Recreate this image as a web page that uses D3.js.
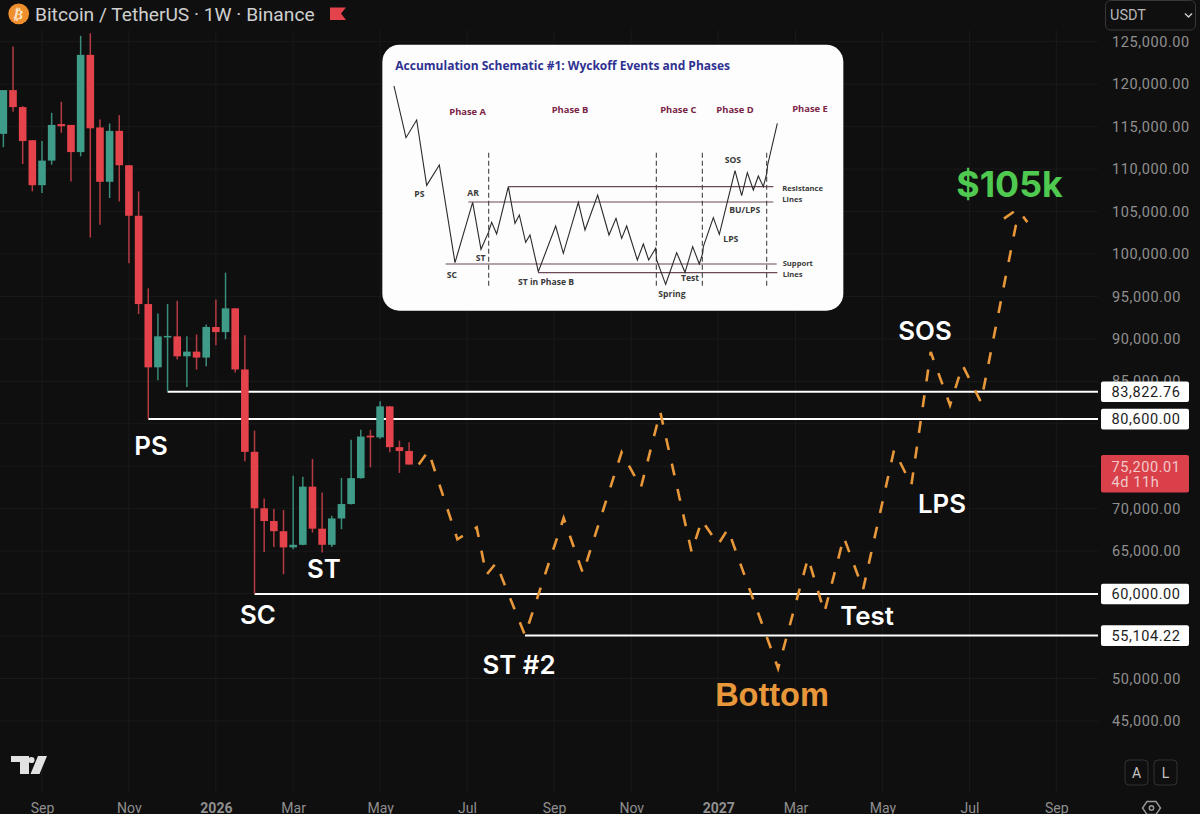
<!DOCTYPE html>
<html>
<head>
<meta charset="utf-8">
<script src="https://cdn.jsdelivr.net/npm/d3@7"></script>
<style>
html,body{margin:0;padding:0;background:#0f0f0f;overflow:hidden}
text{font-family:Inter,Roboto,sans-serif}
</style>
</head>
<body>
<div id="viz"></div>
<script>
// weekly candles, week 0 = 1 Sep 2025
var candleWeek = d3.range(-4,39);
var open  = [114150,119300,117300,113400,108100,111000,115300,115200,112000,123450,114900,108500,114500,110450,104500,94100,86650,90200,90300,87950,88500,87800,91400,90800,93600,86400,76700,70050,68550,67350,65450,65750,72600,67650,65750,68850,70550,73600,78600,78400,82050,77250,76800];
var high  = [119300,124430,117400,113400,113300,116630,117930,115200,125700,126000,115840,115370,116350,110450,107370,95950,93000,94100,94490,90320,90520,91700,94650,97800,93600,90430,79200,71210,69960,69840,73890,73770,75860,71920,69160,73620,78110,79290,79290,82670,82100,78030,77830];
var low   = [112570,116750,110600,107370,107180,110520,114270,108550,111500,101930,103430,106590,106190,98910,92920,80600,85120,83820,87560,84330,86380,86770,89250,89960,86030,75580,60000,64900,65500,62275,65230,65700,67190,64830,65500,67590,70500,73550,74870,78230,76645,74210,75200];
var close = [119300,117300,113300,108100,111000,115200,115050,112000,123450,114800,108500,114500,110450,104500,94100,86650,90300,90350,87950,88500,87800,91400,90800,93600,86400,76700,70050,68550,67350,65450,65750,72600,67650,65750,68850,70550,73600,78500,78400,82050,77250,76800,75200];

// hand drawn projection
var projWeek  = [39,40,43,45,46,47,50,54,56,60,62,64,67.25,68.3,70,71,76.2,79.3,81,83,85,88.2,90,92,94,95.3,97.2,100.8,99.5,101,102];
var projPrice = [75200,76800,66400,67800,62200,63600,55100,68900,62400,76650,72500,81400,64900,68650,65800,67600,51200,64200,57800,66650,60500,76900,72800,88450,82200,86900,82550,103300,104100,105300,103750];

var levelPrice = [83822.76,80600,60000,55104.22];
var levelStart = [13,11,22,50];

var priceTicks = d3.range(45000,125001,5000);
// the rest sit behind the price tags
var priceLabels = [45000,50000,65000,70000,85000,90000,95000,100000,105000,110000,115000,120000,125000];
var timeWeeks  = [0,9,18,26,35,44,53,61,70,78,87,96,105];
var timeNames  = ["Sep","Nov","2026","Mar","May","Jul","Sep","Nov","2027","Mar","May","Jul","Sep"];

var eventNames = ["PS","ST","SC","ST #2","Test","LPS","SOS"];
var eventX     = [151,324,258,519,867,942,925];
var eventY     = [455,578,624,674,625,513,340];

// inset schematic, in its own picture units
var schemX = [42,78,110,140,178,225,278,303,325,335,350,385,405,418,437,450,475,527,550,595,615,653,687,708,725,740,772,790,806,827,830,857,890,915,938,958,968,970,1000,1018,1065,1085,1102,1120,1135,1150,1160,1163,1192];
var schemY = [138,293,240,436,375,668,487,628,578,547,582,440,550,525,607,585,695,558,640,487,570,465,585,535,595,558,660,612,660,625,660,733,638,697,620,672,640,620,533,583,392,467,398,450,408,440,402,375,250];
var schemLevelY  = [440,486,672,698];
var schemLevelX0 = [385,265,197,475];
var schemLevelX1 = [1180,1180,1190,1192];
var schemPhaseX  = [326,829,967,1160];
var phaseNames = ["Phase A","Phase B","Phase C","Phase D","Phase E"];
var phaseX     = [263,570,895,1065,1290];
var phaseY     = [224,220,218,218,216];
var schemNames = ["PS","AR","SC","ST","ST in Phase B","SOS","BU/LPS","LPS","Spring","Test","Resistance","Lines","Support","Lines"];
var schemNameX = [103,262,200,287,414,1034,1048,1030,835,903,1207,1207,1208,1208];
var schemNameY = [470,467,713,663,736,370,520,606,770,723,453,486,678,710];

var RED="#e5434b", GREEN="#3f9c88", ORANGE="#e8983a";

var svg = d3.select("#viz").append("svg").attr("width",1200).attr("height",814)
    .style("display","block").style("background","#0f0f0f");

var x = d3.scaleLinear().domain([0,105]).range([42,1056.3]);
var y = d3.scaleLinear().domain([125000,45000]).range([41.7,721]);

// grid
svg.append("g").selectAll("line").data(priceTicks).enter().append("line")
    .attr("x1",0).attr("x2",1098).attr("y1",function(d){return y(d)}).attr("y2",function(d){return y(d)})
    .attr("stroke","#1a1a1a");
svg.append("g").selectAll("line").data(timeWeeks).enter().append("line")
    .attr("x1",function(d){return x(d)}).attr("x2",function(d){return x(d)}).attr("y1",30).attr("y2",792)
    .attr("stroke","#1a1a1a");

// price axis
var yAxis = svg.append("g").attr("transform","translate(1112,0)")
    .call(d3.axisRight(y).tickValues(priceLabels).tickSize(0).tickPadding(0).tickFormat(d3.format(",.2f")));
yAxis.select(".domain").remove();
yAxis.selectAll("text").attr("fill","#8f8f8f").style("font-size","14.5px").style("font-family","Roboto").style("letter-spacing","0.6px");

// time axis
var xAxis = svg.append("g").attr("transform","translate(0,797)")
    .call(d3.axisBottom(x).tickValues(timeWeeks).tickSize(0).tickPadding(6).tickFormat(function(d,i){return timeNames[i]}));
xAxis.select(".domain").remove();
xAxis.selectAll("text").attr("fill","#8f8f8f").style("font-size","14px").style("font-family","Roboto")
    .style("font-weight",function(d,i){return timeNames[i].length==4?"700":"400"});

// level lines
svg.append("g").selectAll("line").data(levelPrice).enter().append("line")
    .attr("x1",function(d,i){return x(levelStart[i])}).attr("x2",1098)
    .attr("y1",function(d){return y(d)+0.4}).attr("y2",function(d){return y(d)+0.4})
    .attr("stroke","#fff").attr("stroke-width",2);

// candles
var candles = svg.append("g").selectAll("g").data(candleWeek).enter().append("g")
    .attr("transform",function(d){return "translate("+x(d)+",0)"});
candles.append("line")
    .attr("y1",function(d,i){return y(high[i])}).attr("y2",function(d,i){return y(low[i])})
    .attr("stroke",function(d,i){return close[i]>=open[i]?"#3a8c7b":"#b53b43"}).attr("stroke-width",1.5);
candles.append("rect").attr("x",-3.8).attr("width",7.6)
    .attr("y",function(d,i){return y(Math.max(open[i],close[i]))})
    .attr("height",function(d,i){return Math.max(1.5,Math.abs(y(open[i])-y(close[i])))})
    .attr("fill",function(d,i){return close[i]>=open[i]?GREEN:RED});

// projection
var projLine = d3.line().x(function(d){return x(d)}).y(function(d,i){return y(projPrice[i])});
svg.append("path").attr("d",projLine(projWeek)).attr("fill","none")
    .attr("stroke",ORANGE).attr("stroke-width",2.6).attr("stroke-dasharray","12,14");

// price tags
var tags = svg.append("g").selectAll("g").data(levelPrice).enter().append("g")
    .attr("transform",function(d){return "translate(1101,"+(y(d)+0.4)+")"});
tags.append("rect").attr("y",-10.3).attr("width",88).attr("height",20.6).attr("rx",2).attr("fill","#fff");
tags.append("text").attr("x",10.5).attr("y",0).attr("dy","0.36em")
    .attr("fill","#1c1c1c").style("font-size","14.5px").style("font-family","Roboto").style("letter-spacing","0.6px")
    .text(function(d){return d3.format(",.2f")(d)});

svg.append("rect").attr("x",1101).attr("y",455).attr("width",88).attr("height",37.5).attr("rx",2).attr("fill","#d9404a");
svg.append("text").attr("x",1111.5).attr("y",y(close[close.length-1])+7.2).attr("fill","#f2c9cb")
    .style("font-size","14.5px").style("font-family","Roboto").style("letter-spacing","0.6px")
    .text(d3.format(",.2f")(75200.01));
svg.append("text").attr("x",1111.5).attr("y",486.5).attr("fill","#f2c9cb")
    .style("font-size","14.5px").style("font-family","Roboto").style("letter-spacing","0.6px").text("4d 11h");

// event labels
svg.append("g").selectAll("text").data(eventNames).enter().append("text")
    .attr("x",function(d,i){return eventX[i]}).attr("y",function(d,i){return eventY[i]})
    .attr("text-anchor","middle").attr("fill","#fff").style("font-size","25.8px").style("font-weight","600")
    .text(function(d){return d});
svg.append("text").attr("x",772).attr("y",705.5).attr("text-anchor","middle").attr("fill",ORANGE)
    .style("font-family","'Liberation Sans'").style("font-size","32.5px").style("font-weight","700").text("Bottom");
svg.append("text").attr("x",1009.5).attr("y",197).attr("text-anchor","middle").attr("fill","#4fc94f")
    .style("font-size","35.7px").style("font-weight","700").text("$105k");

// inset
var sx = d3.scaleLinear().domain([0,1410]).range([380,850]);
var sy = d3.scaleLinear().domain([0,840]).range([40,320]);
var inset = svg.append("g");
inset.append("rect").attr("x",sx(7)).attr("y",sy(14)).attr("width",sx(1390)-sx(7)).attr("height",sy(812)-sy(14))
    .attr("rx",17).attr("fill","#fdfdfd");
inset.append("text").attr("x",sx(46)).attr("y",sy(90)).attr("fill","#2f3192")
    .style("font-family","'Open Sans'").style("font-size","12px").style("font-weight","700")
    .text("Accumulation Schematic #1: Wyckoff Events and Phases");
inset.selectAll(".lvl").data(schemLevelY).enter().append("line").attr("class","lvl")
    .attr("x1",function(d,i){return sx(schemLevelX0[i])}).attr("x2",function(d,i){return sx(schemLevelX1[i])})
    .attr("y1",function(d){return sy(d)}).attr("y2",function(d){return sy(d)})
    .attr("stroke","#6a4a55").attr("stroke-width",1.1);
inset.selectAll(".ph").data(schemPhaseX).enter().append("line").attr("class","ph")
    .attr("x1",function(d){return sx(d)}).attr("x2",function(d){return sx(d)})
    .attr("y1",sy(338)).attr("y2",sy(746))
    .attr("stroke","#444").attr("stroke-width",1.1).attr("stroke-dasharray","5,3");
var schemLine = d3.line().x(function(d){return sx(d)}).y(function(d,i){return sy(schemY[i])});
inset.append("path").attr("d",schemLine(schemX)).attr("fill","none").attr("stroke","#2a2a2a").attr("stroke-width",1.1);
inset.selectAll(".pn").data(phaseNames).enter().append("text").attr("class","pn")
    .attr("x",function(d,i){return sx(phaseX[i])}).attr("y",function(d,i){return sy(phaseY[i])})
    .attr("text-anchor","middle").attr("fill","#7a2346")
    .style("font-family","'Open Sans'").style("font-size","9.4px").style("font-weight","700").text(function(d){return d});
inset.selectAll(".sn").data(schemNames).enter().append("text").attr("class","sn")
    .attr("x",function(d,i){return sx(schemNameX[i])}).attr("y",function(d,i){return sy(schemNameY[i])})
    .attr("fill","#3a3a3a").style("font-family","'Open Sans'").style("font-weight","700")
    .style("font-size",function(d,i){return i>=10?"7.6px":"8.6px"}).text(function(d){return d});

// header
svg.append("circle").attr("cx",18.7).attr("cy",13.8).attr("r",10.4).attr("fill","#ee8e2c");
svg.append("text").attr("x",18.7).attr("y",19).attr("text-anchor","middle").attr("fill","#fbe3c6")
    .attr("transform","rotate(12,18.7,13.8)")
    .style("font-family","'DejaVu Sans'").style("font-size","14px").style("font-weight","700").text("₿");
svg.append("text").attr("x",35).attr("y",21).attr("fill","#cfcfcf")
    .style("font-size","19.2px").style("font-family","Roboto").text("Bitcoin / TetherUS · 1W · Binance");
svg.append("path").attr("d","M330 7.5H346L341 13.5L346 20H330Z").attr("fill","#e5434b");

// currency box
svg.append("rect").attr("x",1105.5).attr("y",0.5).attr("width",90).attr("height",29.5).attr("rx",5)
    .attr("fill","none").attr("stroke","#383838");
svg.append("text").attr("x",1110).attr("y",20).attr("fill","#b8b8b8")
    .style("font-size","14.5px").style("font-family","Roboto").text("USDT");
svg.append("path").attr("d","M1185 13.5L1188.5 17L1192 13.5").attr("fill","none").attr("stroke","#c8c8c8").attr("stroke-width",1.5);

// logo
svg.append("path").attr("d","M11 756H29V774H20V762H11ZM38 756H47L39.5 774H30.5Z").attr("fill","#e2e2e2");
svg.append("circle").attr("cx",31.5).attr("cy",760).attr("r",3.1).attr("fill","#e2e2e2");

// A / L buttons and settings
var btns = svg.append("g").selectAll("g").data(["A","L"]).enter().append("g")
    .attr("transform",function(d,i){return "translate("+(1125+i*29)+",760)"});
btns.append("rect").attr("width",23).attr("height",25).attr("rx",4).attr("fill","none").attr("stroke","#333");
btns.append("text").attr("x",11.5).attr("y",18).attr("text-anchor","middle").attr("fill","#c4c4c4")
    .style("font-size","14px").style("font-family","Roboto").text(function(d){return d});
svg.append("path").attr("d","M1147 801.5H1156L1160.5 808L1156 814.5H1147L1142.5 808Z").attr("fill","none").attr("stroke","#9a9a9a").attr("stroke-width",1.4);
svg.append("circle").attr("cx",1151.5).attr("cy",808).attr("r",2.2).attr("fill","none").attr("stroke","#9a9a9a").attr("stroke-width",1.4);
</script>
</body>
</html>
